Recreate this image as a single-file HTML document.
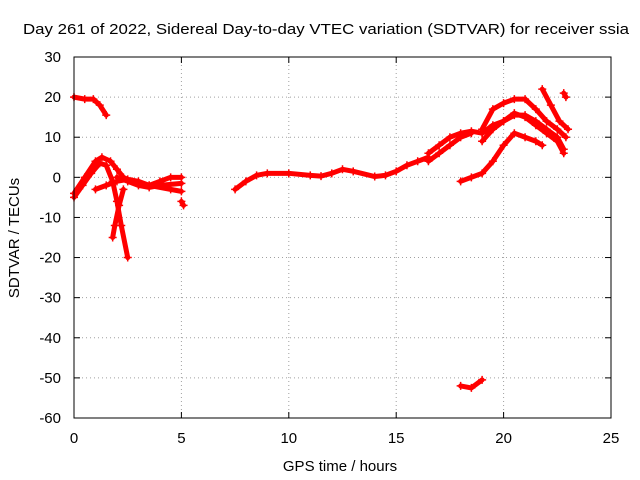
<!DOCTYPE html>
<html><head><meta charset="utf-8"><style>
body{margin:0;background:#fff;}
svg{display:block;font-family:"Liberation Sans",sans-serif;}
</style></head><body>
<svg id="chart" width="640" height="480">
<text x="326" y="34" font-size="15" text-anchor="middle" textLength="606" lengthAdjust="spacingAndGlyphs">Day 261 of 2022, Sidereal Day-to-day VTEC variation (SDTVAR) for receiver ssia</text>
<text x="340" y="471" font-size="15" text-anchor="middle">GPS time / hours</text>
<text transform="translate(19,238) rotate(-90)" font-size="15" text-anchor="middle">SDTVAR / TECUs</text>
<g id="grid"></g><g id="ticks"></g><g id="series"></g>
<rect x="74" y="57" width="537" height="361" fill="none" stroke="#000"/>
</svg>
<script>
const xTicks=[0,5,10,15,20,25];
const yTicks=[30,20,10,0,-10,-20,-30,-40,-50,-60];
const t1=[[0,20],[0.5,19.5],[0.9,19.5],[1.2,18],[1.5,15.5]];
const t2=[[0,-4],[0.5,0],[1,4],[1.3,5],[1.7,4],[2,2],[2.3,0],[2.7,-1],[3.5,-2],[4.5,-3],[5,-3.5]];
const t3=[[0,-5],[0.4,-2],[0.8,1],[1.2,3.5],[1.5,3],[1.8,-1],[2,-6],[2.2,-12],[2.5,-20]];
const t4=[[2.3,-3],[2.1,-7],[1.9,-12],[1.8,-15]];
const t5=[[1,-3],[1.5,-2],[2,-1],[2.5,-0.5],[3,-1],[3.5,-2],[4,-1],[4.5,0],[5,0]];
const t6=[[2,0],[2.5,-1],[3,-2],[3.5,-2.5],[4,-2],[5,-1.5]];
const t7=[[5,-6],[5.1,-7]];
const t8=[[7.5,-3],[8,-1],[8.5,0.5],[9,1],[10,1],[11,0.5],[11.5,0.3],[12,1],[12.5,2],[13,1.5],[14,0.2],[14.5,0.5],[15,1.5],[15.5,3],[16,4],[16.5,5]];
const t9=[[16.5,6],[17,8],[17.5,10],[18,11],[18.5,11.5],[19,11]];
const t10=[[16.5,4],[17,6],[17.5,8],[18,10],[18.5,11]];
const t11=[[18,-1],[18.5,0],[19,1],[19.5,4],[20,8],[20.5,11],[21,10],[21.5,9],[21.8,8]];
const t12=[[19,12],[19.5,17],[20,18.5],[20.5,19.5],[21,19.5],[21.5,17],[22,14],[22.5,12],[22.9,10]];
const t13=[[19,11],[19.5,13],[20,14],[20.5,15.5],[21,15.5],[21.5,14],[22,12],[22.5,10],[22.8,7]];
const t14=[[21.8,22],[22.2,18],[22.6,14],[23,12]];
const t15=[[22.8,21],[22.9,20]];
const t16=[[18,-52],[18.5,-52.5],[19,-50.5]];
const t17=[[19,9],[19.5,12],[20,14],[20.5,16],[21,15],[21.5,13],[22,11],[22.5,9],[22.8,6]];
const tracks=[t1,t2,t3,t4,t5,t6,t7,t8,t9,t10,t11,t12,t13,t14,t15,t16,t17];
const NS="http://www.w3.org/2000/svg";
const X=v=>74+v*537/25;
const Y=v=>57+(30-v)*361/90;
function mk(tag,at,parent){const e=document.createElementNS(NS,tag);for(const k in at)e.setAttribute(k,at[k]);parent.appendChild(e);return e;}
const grid=document.getElementById('grid'),ticks=document.getElementById('ticks'),ser=document.getElementById('series');
xTicks.forEach(v=>{
 if(v>0&&v<25){const g=mk('line',{x1:X(v),x2:X(v),y1:57,y2:418,stroke:'#a0a0a0','stroke-dasharray':'1,3'},grid);
 }
 mk('line',{x1:X(v),x2:X(v),y1:418,y2:412,stroke:'#000'},ticks);
 mk('line',{x1:X(v),x2:X(v),y1:57,y2:63,stroke:'#000'},ticks);
 const t=mk('text',{x:X(v),y:443,'font-size':15,'text-anchor':'middle'},ticks);t.textContent=v;
 
});
yTicks.forEach(v=>{
 if(v<30&&v>-60){const g=mk('line',{x1:74,x2:611,y1:Y(v),y2:Y(v),stroke:'#a0a0a0','stroke-dasharray':'1,3'},grid);
 }
 mk('line',{x1:74,x2:80,y1:Y(v),y2:Y(v),stroke:'#000'},ticks);
 mk('line',{x1:611,x2:605,y1:Y(v),y2:Y(v),stroke:'#000'},ticks);
 const t=mk('text',{x:61,y:Y(v)+5,'font-size':15,'text-anchor':'end'},ticks);t.textContent=v;
 
});
tracks.forEach((tr,i)=>{
 const p=mk('polyline',{points:tr.map(d=>X(d[0])+','+Y(d[1])).join(' '),fill:'none',stroke:'#ff0000','stroke-width':5,'stroke-linejoin':'round','stroke-linecap':'round'},ser);
 
 
 tr.forEach(d=>{
  const x=X(d[0]),y=Y(d[1]);
  const m=mk('path',{d:`M${x-4},${y}H${x+4}M${x},${y-4}V${y+4}`,stroke:'#ff0000','stroke-width':1.5},ser);
  
  
 });
});
</script>
</body></html>
